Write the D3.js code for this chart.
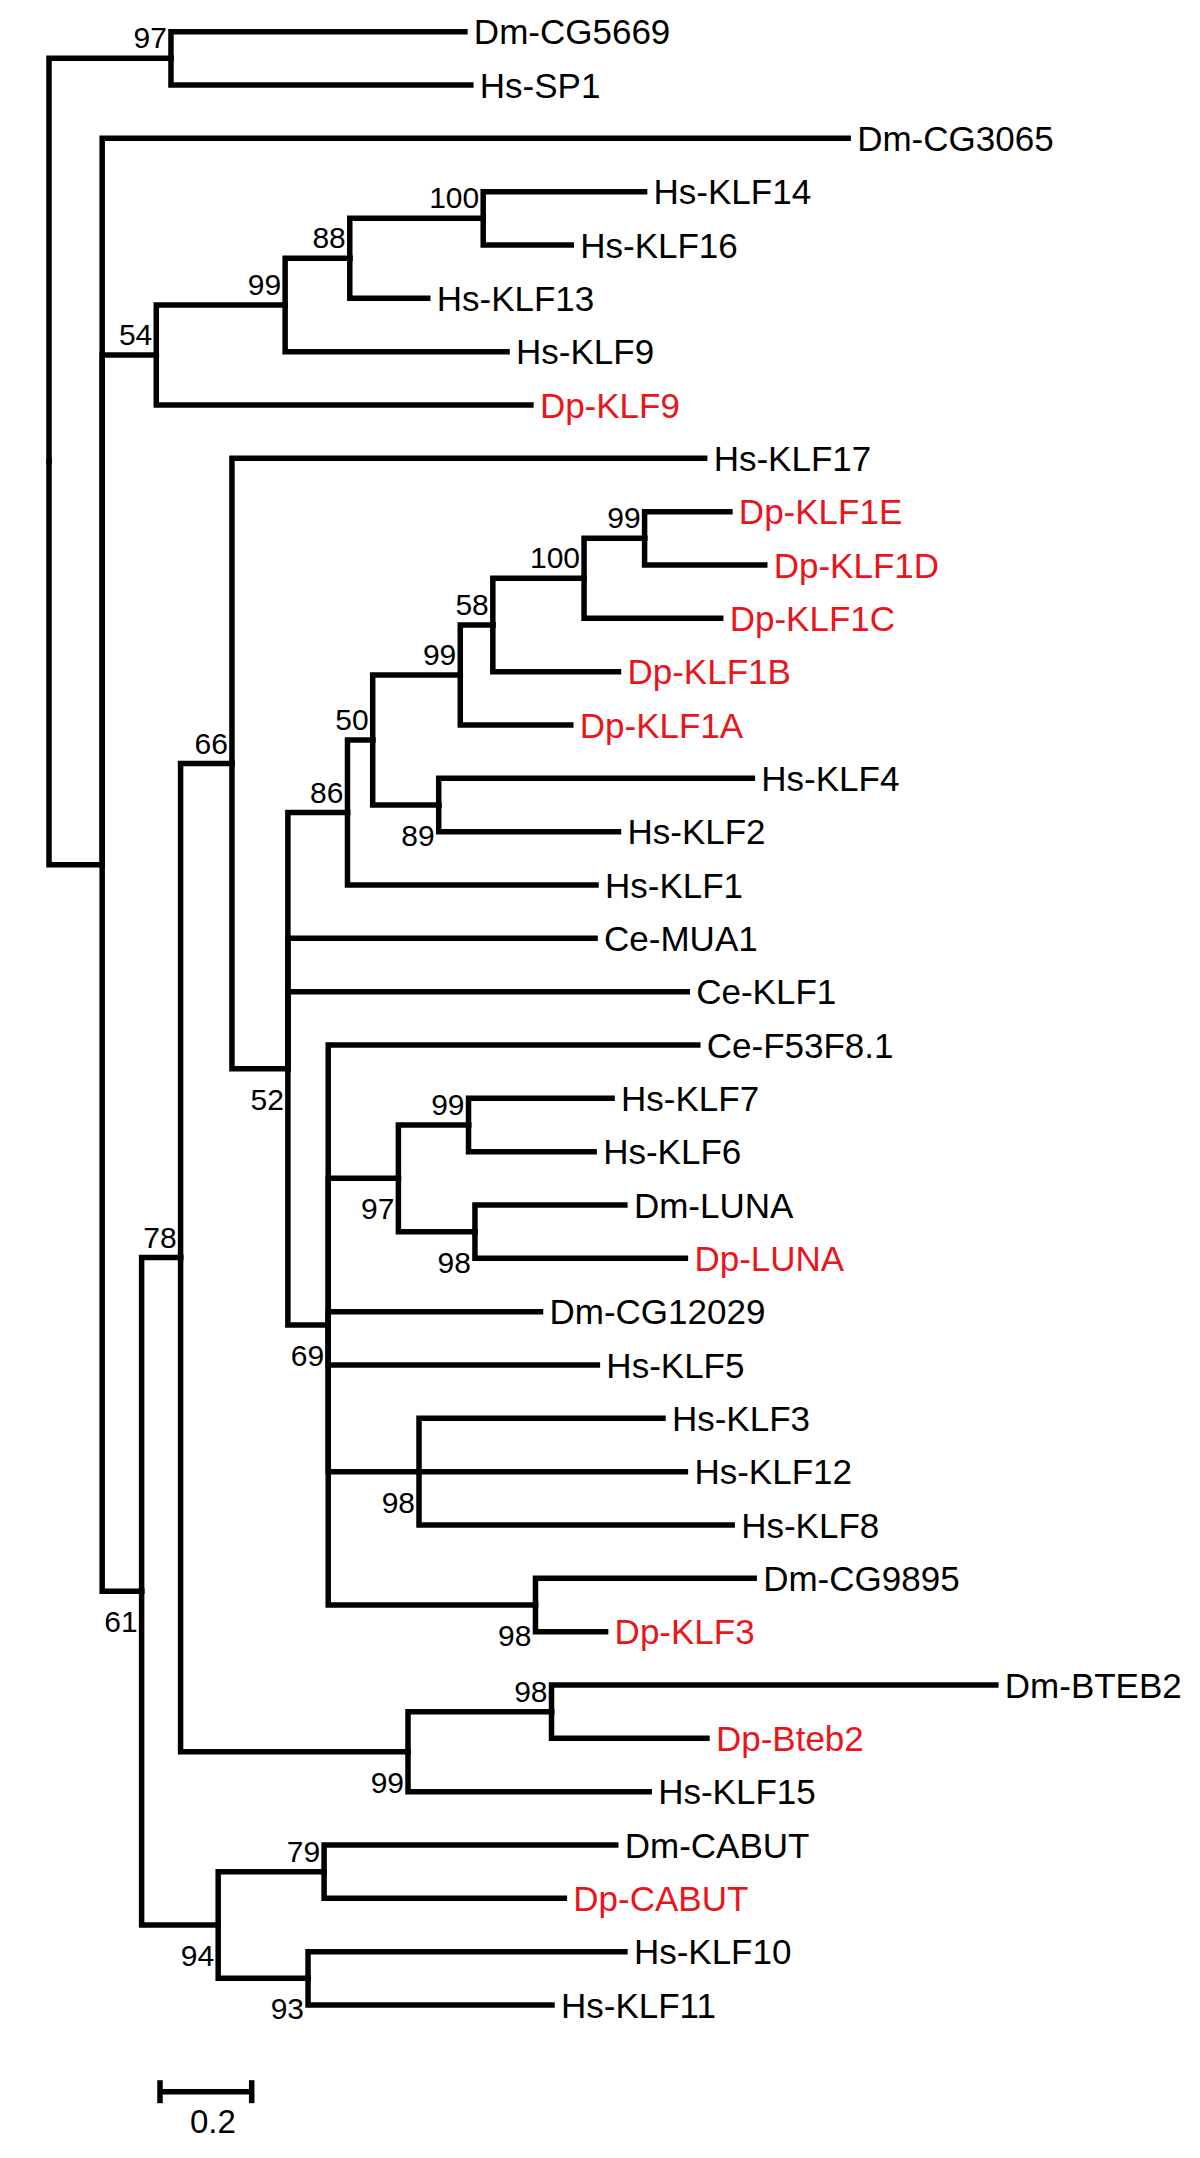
<!DOCTYPE html>
<html>
<head>
<meta charset="utf-8">
<script src="https://cdn.jsdelivr.net/npm/d3@7"></script>
<style>
  html, body { margin: 0; padding: 0; background: #fff; }
  svg { display: block; }
</style>
</head>
<body>
<div id="chart"></div>
<script>
// ---- DATA ----
// Tree edges: [node id, parent id, branch length (substitutions/site), bootstrap support]
const treeEdges = [
  ["root", "", 0, null],
  ["n97a", "root", 0.266, 97],
  ["Dm-CG5669", "n97a", 0.641, null],
  ["Hs-SP1", "n97a", 0.654, null],
  ["nX", "root", 0.116, null],
  ["Dm-CG3065", "nX", 1.627, null],
  ["n54", "nX", 0.118, 54],
  ["n99a", "n54", 0.281, 99],
  ["n88", "n99a", 0.141, 88],
  ["n100a", "n88", 0.291, 100],
  ["Hs-KLF14", "n100a", 0.352, null],
  ["Hs-KLF16", "n100a", 0.192, null],
  ["Hs-KLF13", "n88", 0.170, null],
  ["Hs-KLF9", "n99a", 0.484, null],
  ["Dp-KLF9", "n54", 0.817, null],
  ["n61", "nX", 0.086, 61],
  ["n78", "n61", 0.085, 78],
  ["n66", "n78", 0.112, 66],
  ["Hs-KLF17", "n66", 1.031, null],
  ["n52", "n66", 0.122, 52],
  ["n86", "n52", 0.130, 86],
  ["n50", "n86", 0.055, 50],
  ["n99b", "n50", 0.191, 99],
  ["n58", "n99b", 0.071, 58],
  ["n100b", "n58", 0.199, 100],
  ["n99c", "n100b", 0.132, 99],
  ["Dp-KLF1E", "n99c", 0.186, null],
  ["Dp-KLF1D", "n99c", 0.262, null],
  ["Dp-KLF1C", "n100b", 0.298, null],
  ["Dp-KLF1B", "n58", 0.274, null],
  ["Dp-KLF1A", "n99b", 0.241, null],
  ["n89", "n50", 0.144, 89],
  ["Hs-KLF4", "n89", 0.684, null],
  ["Hs-KLF2", "n89", 0.392, null],
  ["Hs-KLF1", "n86", 0.542, null],
  ["Ce-MUA1", "n52", 0.670, null],
  ["Ce-KLF1", "n52", 0.871, null],
  ["n69", "n52", 0.088, 69],
  ["Ce-F53F8.1", "n69", 0.806, null],
  ["n97b", "n69", 0.153, 97],
  ["n99d", "n97b", 0.153, 99],
  ["Hs-KLF7", "n99d", 0.313, null],
  ["Hs-KLF6", "n99d", 0.274, null],
  ["n98c", "n97b", 0.167, 98],
  ["Dm-LUNA", "n98c", 0.327, null],
  ["Dp-LUNA", "n98c", 0.459, null],
  ["Dm-CG12029", "n69", 0.463, null],
  ["Hs-KLF5", "n69", 0.587, null],
  ["n98a", "n69", 0.198, 98],
  ["Hs-KLF3", "n98a", 0.532, null],
  ["Hs-KLF12", "n98a", 0.581, null],
  ["Hs-KLF8", "n98a", 0.683, null],
  ["n98b", "n69", 0.452, 98],
  ["Dm-CG9895", "n98b", 0.477, null],
  ["Dp-KLF3", "n98b", 0.153, null],
  ["n99e", "n78", 0.496, 99],
  ["n98d", "n99e", 0.313, 98],
  ["Dm-BTEB2", "n98d", 0.969, null],
  ["Dp-Bteb2", "n98d", 0.339, null],
  ["Hs-KLF15", "n99e", 0.526, null],
  ["n94", "n61", 0.167, 94],
  ["n79", "n94", 0.231, 79],
  ["Dm-CABUT", "n79", 0.636, null],
  ["Dp-CABUT", "n79", 0.524, null],
  ["n93", "n94", 0.196, 93],
  ["Hs-KLF10", "n93", 0.691, null],
  ["Hs-KLF11", "n93", 0.532, null]
];
const highlightPrefix = "Dp-";
const scaleBarValue = 0.2;
const scaleBarLabel = "0.2";

// ---- LAYOUT / DRAW ----
const W = 1200, H = 2158;
const svg = d3.select("#chart").append("svg")
  .attr("width", W).attr("height", H)
  .attr("viewBox", `0 0 ${W} ${H}`);
svg.append("rect").attr("width", W).attr("height", H).attr("fill", "#fff");

const root = d3.stratify()
  .id(d => d[0])
  .parentId(d => d[1] === "" ? null : d[1])(treeEdges);

// cumulative distance from root (preorder)
root.eachBefore(n => { n.len = n.parent ? n.parent.len + n.data[2] : 0; });

const leaves = root.leaves();
const x = d3.scaleLinear().domain([0, 1]).range([49, 49 + 458.5]);
const y = d3.scaleLinear().domain([0, leaves.length - 1]).range([31.7, 2005]);

leaves.forEach((l, i) => { l.yPos = y(i); });
root.eachAfter(n => {
  n.xPos = x(n.len);
  if (n.children) {
    n.yPos = (n.children[0].yPos + n.children[n.children.length - 1].yPos) / 2;
  }
});

const STROKE = 5.5;
const g = svg.append("g");

// branches: elbow from parent vertical to child
g.selectAll("path.link")
  .data(root.links())
  .join("path")
  .attr("class", "link")
  .attr("d", d => `M${d.source.xPos},${d.source.yPos}V${d.target.yPos}H${d.target.xPos}`)
  .attr("fill", "none")
  .attr("stroke", "#000")
  .attr("stroke-width", STROKE)
  .attr("stroke-linejoin", "miter")
  .attr("stroke-linecap", "square");

const fontFam = "'Liberation Sans', Arial, Helvetica, sans-serif";

// leaf labels
g.selectAll("text.leaf")
  .data(leaves)
  .join("text")
  .attr("class", "leaf")
  .attr("x", d => d.xPos + 9)
  .attr("y", d => d.yPos + 12.5)
  .attr("font-family", fontFam)
  .attr("font-size", 35)
  .attr("fill", d => d.id.startsWith(highlightPrefix) ? "#e8161b" : "#000")
  .text(d => d.id);

// bootstrap labels
const supportBelow = new Set(["n89", "n61", "n98a", "n98b", "n99e", "n94", "n93", "n98c", "n97b", "n69", "n52"]);
g.selectAll("text.support")
  .data(root.descendants().filter(d => d.children && d.data[3] != null))
  .join("text")
  .attr("class", "support")
  .attr("x", d => d.xPos - 4)
  .attr("y", d => supportBelow.has(d.id) ? d.yPos + 41 : d.yPos - 10)
  .attr("text-anchor", "end")
  .attr("font-family", fontFam)
  .attr("font-size", 30)
  .attr("fill", "#000")
  .text(d => d.data[3]);

// scale bar
const sbX0 = 160, sbY = 2091.7;
const sbLen = x(scaleBarValue) - x(0);
const sb = svg.append("g");
sb.append("line").attr("x1", sbX0).attr("x2", sbX0 + sbLen).attr("y1", sbY).attr("y2", sbY)
  .attr("stroke", "#000").attr("stroke-width", STROKE);
[sbX0, sbX0 + sbLen].forEach(px => {
  sb.append("line").attr("x1", px).attr("x2", px).attr("y1", sbY - 11.5).attr("y2", sbY + 11.5)
    .attr("stroke", "#000").attr("stroke-width", STROKE);
});
sb.append("text")
  .attr("x", sbX0 + sbLen / 2 + 7)
  .attr("y", 2133)
  .attr("text-anchor", "middle")
  .attr("font-family", fontFam)
  .attr("font-size", 33)
  .attr("fill", "#000")
  .text(scaleBarLabel);
</script>
</body>
</html>
